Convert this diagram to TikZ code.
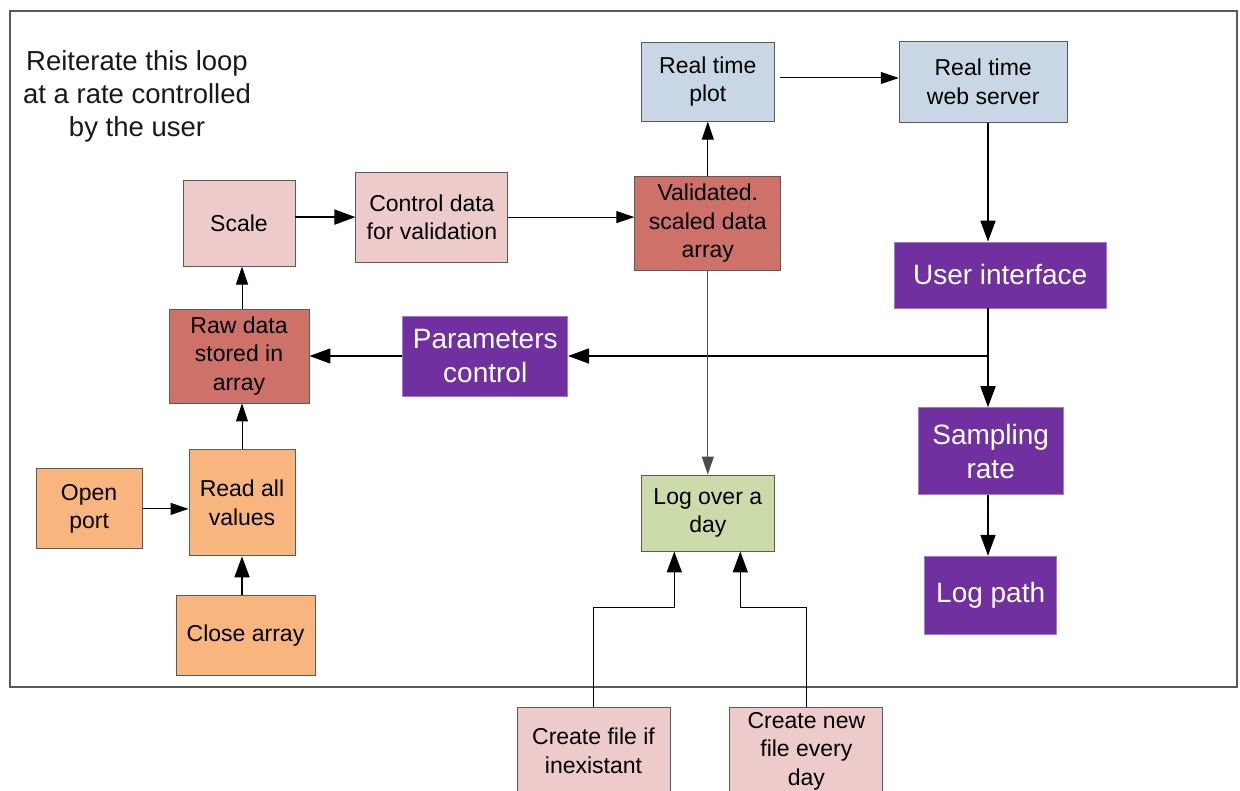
\documentclass[tikz,border=0pt]{standalone}
\usepackage{fontspec}
\setmainfont{Liberation Sans}
\usetikzlibrary{positioning,arrows.meta}
\definecolor{plotblue}{HTML}{C8D6E6}
\definecolor{softred}{HTML}{ECCBCA}
\definecolor{deepred}{HTML}{CE7169}
\definecolor{portorange}{HTML}{F8B57D}
\definecolor{loggreen}{HTML}{CCDBAA}
\definecolor{uipurple}{HTML}{7030A0}
\definecolor{uiedge}{HTML}{A27BC6}
\definecolor{edgegray}{HTML}{5A5A5A}
\tikzset{
  flowbox/.style={draw=edgegray, line width=0.9pt, align=center, inner sep=2pt, font=\fontsize{23}{28.5}\selectfont},
  bluebox/.style={flowbox, fill=plotblue},
  pinkbox/.style={flowbox, fill=softred},
  redbox/.style={flowbox, fill=deepred},
  orangebox/.style={flowbox, fill=portorange},
  greenbox/.style={flowbox, fill=loggreen},
  userbox/.style={draw=uiedge, line width=0.6pt, fill=uipurple, text=white, align=center, inner sep=2pt, font=\fontsize{28}{34}\selectfont},
  arrow/.style={-{Triangle[length=18pt,width=12pt]}, line width=1pt},
  thickarrow/.style={-{Triangle[length=21pt,width=15pt]}, line width=1.6pt},
  frame/.style={draw=edgegray, line width=1.2pt}
}

\begin{document}
\begin{tikzpicture}[x=1pt, y=-1pt]
  \useasboundingbox (0,0) rectangle (1240,791);
  \clip (0,0) rectangle (1240,791);
  \draw[frame] (10,11) rectangle (1237,687);
  \node[align=center, font=\fontsize{27.5}{33}\selectfont, text=black!90] (note) at (137,96) {Reiterate this loop\\at a rate controlled\\by the user};
  \node[redbox, minimum width=140pt, minimum height=94pt] (raw) at (239,356) {Raw data\\stored in\\array};
  \node[pinkbox, minimum width=112pt, minimum height=86pt, above=42pt of raw] (scale) {Scale};
  \node[orangebox, minimum width=106pt, minimum height=106pt, below=46pt of raw, xshift=3pt] (read) {Read all\\values};
  \node[orangebox, minimum width=106pt, minimum height=80pt, left=46pt of read, yshift=-6pt] (open) {Open\\port};
  \node[orangebox, minimum width=139pt, minimum height=80pt, below=39pt of read, xshift=3.5pt] (close) {Close array};
  \node[pinkbox, minimum width=152pt, minimum height=90pt, right=60pt of scale, yshift=6pt] (check) {Control data\\for validation};
  \node[redbox, minimum width=146pt, minimum height=94pt, right=126pt of check, yshift=-6pt] (valid) {Validated.\\scaled data\\array};
  \node[bluebox, minimum width=133pt, minimum height=79pt, above=54pt of valid] (plot) {Real time\\plot};
  \node[bluebox, minimum width=168pt, minimum height=81pt, right=124pt of plot] (web) {Real time\\web server};
  \node[userbox, minimum width=212pt, minimum height=66pt, below=119pt of web, xshift=17pt] (ui) {User interface};
  \node[userbox, minimum width=145pt, minimum height=87pt, below=99pt of ui, xshift=-9.5pt] (rate) {Sampling\\rate};
  \node[userbox, minimum width=132pt, minimum height=78pt, below=61pt of rate] (logpath) {Log path};
  \node[userbox, minimum width=165pt, minimum height=80pt, right=93pt of raw] (params) {Parameters\\control};
  \node[greenbox, minimum width=133pt, minimum height=76pt, below=204pt of valid] (logday) {Log over a\\day};
  \node[pinkbox, minimum width=153pt, minimum height=88pt] (mkfile) at (593.5,751) {Create file if\\inexistant};
  \node[pinkbox, minimum width=153pt, minimum height=88pt, right=59pt of mkfile] (newfile) {Create new\\file every\\day};
  \coordinate (trunk) at (988,356);
  \coordinate (plotout) at (780,78);
  % acquisition chain
  \draw[arrow] (open.east) -- (open.east -| read.west);
  \draw[thickarrow] (close.north -| read.south) -- (read.south);
  \draw[arrow] (read.north) -- (read.north |- raw.south);
  \draw[arrow] (raw.north -| read.north) -- (scale.south -| read.north);
  \draw[thickarrow] (scale.east |- check.west) -- (check.west);
  \draw[arrow] (check.east) -- (check.east -| valid.west);
  \draw[arrow] (valid.north) -- (plot.south);
  \draw[arrow] (plotout) -- (plotout -| web.west);
  % user side
  \draw[thickarrow] (trunk |- web.south) -- (trunk |- ui.north);
  \draw[thickarrow] (trunk |- ui.south) -- (trunk |- rate.north);
  \draw[thickarrow] (trunk |- rate.south) -- (trunk |- logpath.north);
  \draw[thickarrow] (trunk) -- (params.east);
  \draw[thickarrow] (params.west) -- (raw.east);
  % logging
  \draw[arrow, draw=black!70] (valid.south) -- (logday.north);
  \draw[thickarrow] (mkfile.north) -- ++(0,-99) -| ([xshift=-33.5pt]logday.south);
  \draw[thickarrow] (newfile.north) -- ++(0,-99) -| ([xshift=32.5pt]logday.south);
\end{tikzpicture}
\end{document}
